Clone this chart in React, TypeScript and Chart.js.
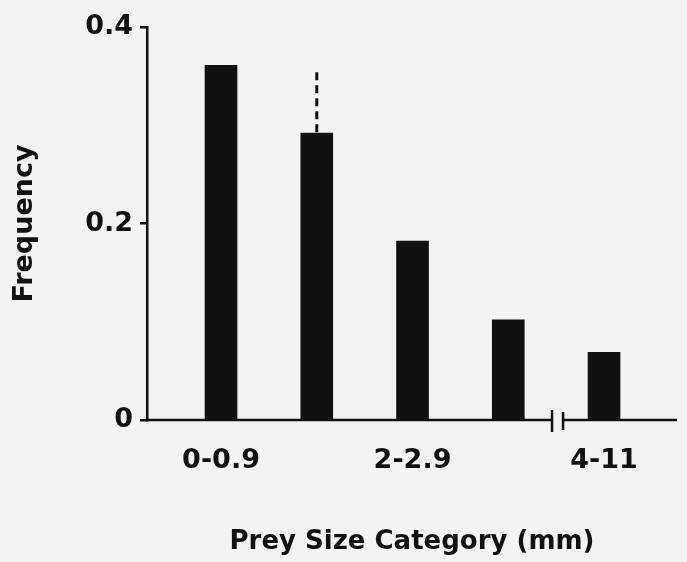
import React, { useEffect, useRef } from 'react';
import { Chart, registerables } from 'chart.js';

Chart.register(...registerables);

// ---- data ----
const categories = ['0-0.9', '1-1.9', '2-2.9', '3-3.9', '4-11'];
const tickLabels = ['0-0.9', '', '2-2.9', '', '4-11'];
const frequency = [0.361, 0.292, 0.182, 0.102, 0.069];
const errorUpper: (number | null)[] = [null, 0.354, null, null, null];
const yTicks = [0, 0.2, 0.4];
// axis break sits between the 4th and 5th category
const breakStart = 3.457;
const breakEnd = 3.572;

const INK = '#111111';
const FONT = 'DejaVu Sans';

const axisBreakPlugin = {
  id: 'axisBreak',
  afterDatasetsDraw(chart: any) {
    const { ctx, chartArea, scales } = chart;
    const x = scales.x;
    const y = scales.y;
    const y0 = y.getPixelForValue(0);
    const b1 = x.getPixelForValue(breakStart);
    const b2 = x.getPixelForValue(breakEnd);
    ctx.save();
    ctx.strokeStyle = INK;
    ctx.lineWidth = 2.5;
    ctx.beginPath();
    ctx.moveTo(chartArea.left - 1, y0);
    ctx.lineTo(b1, y0);
    ctx.moveTo(b2, y0);
    ctx.lineTo(chartArea.right, y0);
    ctx.moveTo(b1, y0 - 10);
    ctx.lineTo(b1, y0 + 12);
    ctx.moveTo(b2, y0 - 8);
    ctx.lineTo(b2, y0 + 10);
    ctx.stroke();
    // dashed error bars
    ctx.lineWidth = 3;
    ctx.setLineDash([8, 5]);
    errorUpper.forEach((e, i) => {
      if (e == null) return;
      const px = x.getPixelForValue(i);
      ctx.beginPath();
      ctx.moveTo(px, y.getPixelForValue(e));
      ctx.lineTo(px, y.getPixelForValue(frequency[i]));
      ctx.stroke();
    });
    ctx.restore();
  },
};

export default function App() {
  const ref = useRef<HTMLCanvasElement>(null);

  useEffect(() => {
    document.body.style.margin = '0';
    const canvas = ref.current;
    if (!canvas) return;
    const chart = new Chart(canvas, {
      type: 'bar',
      data: {
        labels: categories,
        datasets: [
          {
            data: frequency.map((v, i) => ({ x: i, y: v })) as any,
            backgroundColor: INK,
            borderWidth: 0,
            barThickness: 32,
          },
        ],
      },
      options: {
        animation: false,
        responsive: false,
        devicePixelRatio: 1,
        layout: { padding: { top: 27, right: 10, bottom: 0, left: 0 } },
        plugins: {
          legend: { display: false },
          tooltip: { enabled: false },
        },
        scales: {
          x: {
            type: 'linear',
            min: -0.773,
            max: 4.762,
            offset: false,
            grid: { display: false },
            border: { display: false },
            afterBuildTicks: (s: any) => {
              s.ticks = categories.map((_, i) => ({ value: i }));
            },
            ticks: {
              autoSkip: false,
              maxRotation: 0,
              padding: 17,
              color: INK,
              font: { family: FONT, size: 27, weight: 'bold' },
              callback: (_v: any, index: number) => tickLabels[index] ?? '',
            },
            title: {
              display: true,
              text: 'Prey Size Category (mm)',
              color: INK,
              font: { family: FONT, size: 26, weight: 'bold' },
              padding: { top: 0, bottom: 4 },
            },
            afterFit: (s: any) => {
              s.height = 142;
            },
          } as any,
          y: {
            min: 0,
            max: 0.4,
            afterBuildTicks: (s: any) => {
              s.ticks = yTicks.map((v) => ({ value: v }));
            },
            ticks: {
              padding: 7,
              color: INK,
              font: { family: FONT, size: 27, weight: 'bold' },
              callback: (v: any) => (v === 0 ? '0' : Number(v).toFixed(1)),
            },
            grid: {
              drawOnChartArea: false,
              drawTicks: true,
              tickLength: 7,
              color: INK,
              lineWidth: 2.5,
            },
            border: { display: true, color: INK, width: 2.5 },
            title: {
              display: true,
              text: 'Frequency',
              color: INK,
              font: { family: FONT, size: 27, weight: 'bold' },
              padding: { top: 9, bottom: 0 },
            },
            afterFit: (s: any) => {
              s.width = 147;
            },
          } as any,
        },
      },
      plugins: [axisBreakPlugin],
    });
    return () => chart.destroy();
  }, []);

  return (
    <div style={{ width: 687, height: 562, background: '#f3f3f3' }}>
      <canvas ref={ref} width={687} height={562} style={{ display: 'block' }} />
    </div>
  );
}
